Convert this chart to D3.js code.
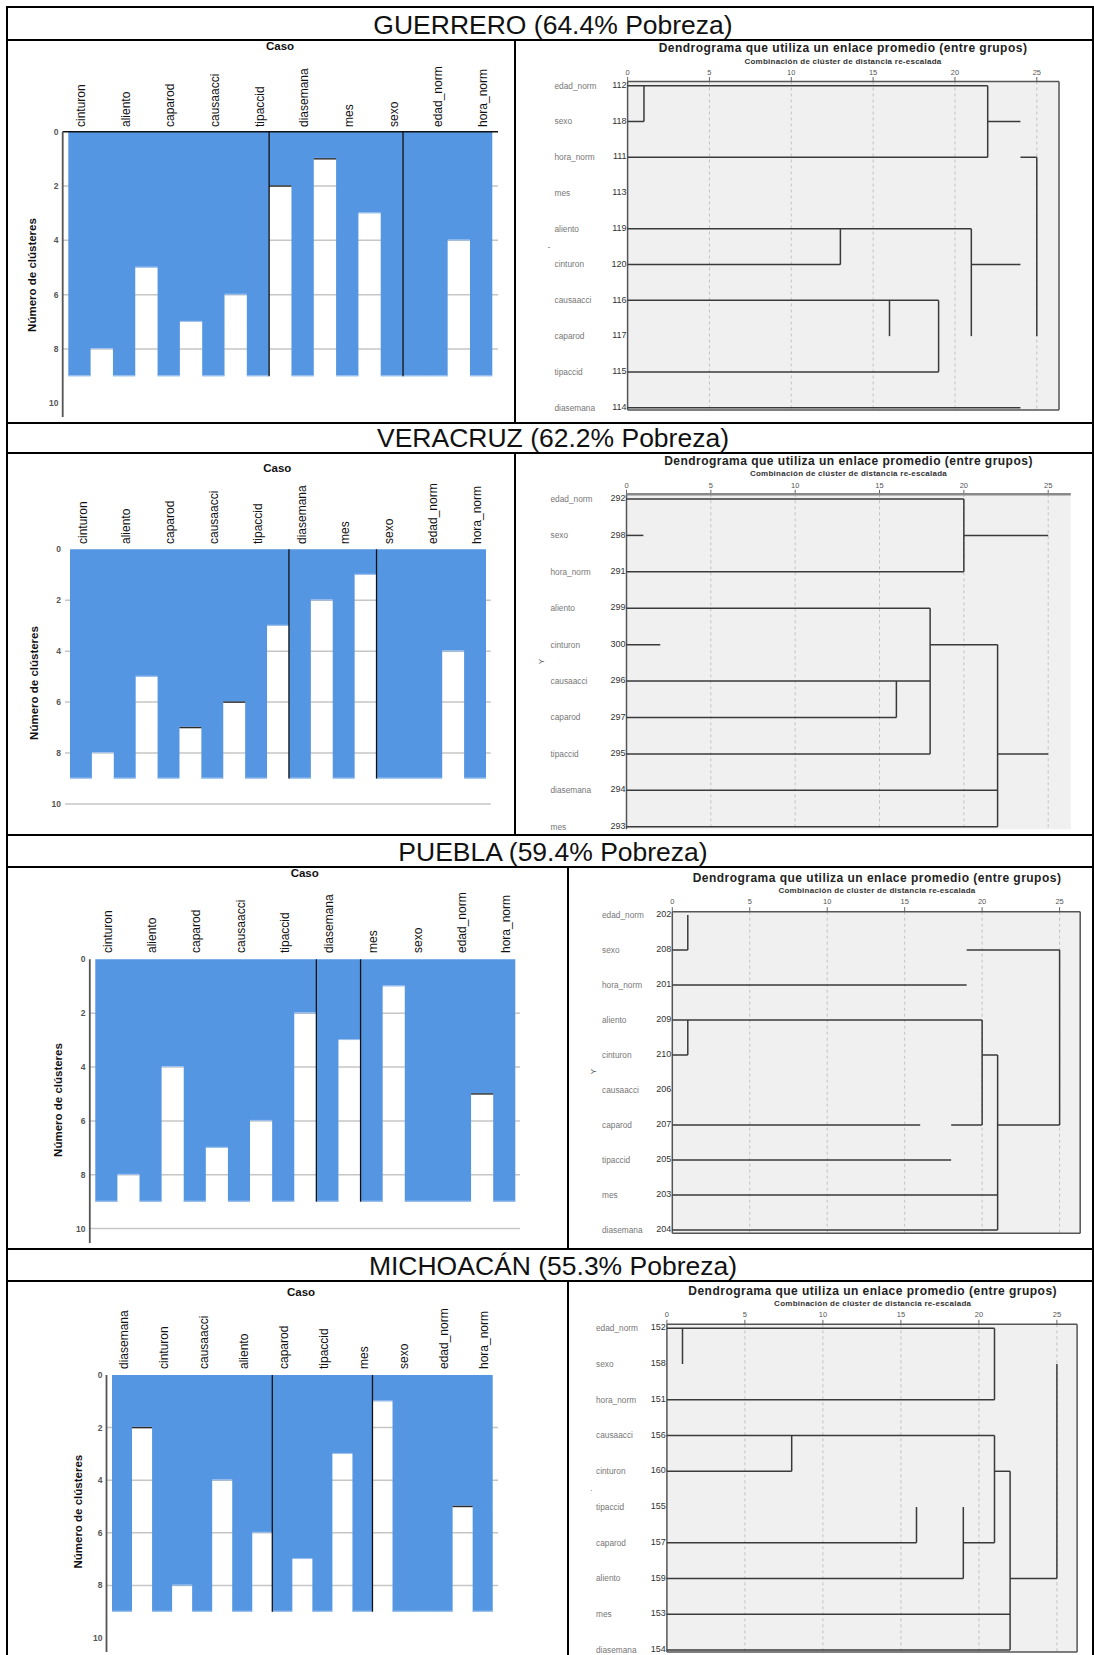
<!DOCTYPE html>
<html>
<head>
<meta charset="utf-8">
<script src="https://cdn.jsdelivr.net/npm/d3@7"></script>
<style>
  body { margin: 0; background: #fff; }
  svg { display: block; }
</style>
</head>
<body>
<svg id="chart" width="1094" height="1655"></svg>
<script>
// ---------------- data ----------------
const states = ["GUERRERO", "VERACRUZ", "PUEBLA", "MICHOACÁN"];
const povertyPct = [64.4, 62.2, 59.4, 55.3];

// Icicle plots: variable order and, for each neighbouring pair, the number of
// clusters down to which the pair stays in the same cluster.
const icicleVariables = [
  ["cinturon", "aliento", "caparod", "causaacci", "tipaccid", "diasemana", "mes", "sexo", "edad_norm", "hora_norm"],
  ["cinturon", "aliento", "caparod", "causaacci", "tipaccid", "diasemana", "mes", "sexo", "edad_norm", "hora_norm"],
  ["cinturon", "aliento", "caparod", "causaacci", "tipaccid", "diasemana", "mes", "sexo", "edad_norm", "hora_norm"],
  ["diasemana", "cinturon", "causaacci", "aliento", "caparod", "tipaccid", "mes", "sexo", "edad_norm", "hora_norm"]
];
const icicleJoin = [
  [8, 5, 7, 6, 2, 1, 3, 9, 4],
  [8, 5, 7, 6, 3, 2, 1, 9, 4],
  [8, 4, 7, 6, 2, 3, 1, 9, 5],
  [2, 8, 4, 6, 7, 3, 1, 9, 5]
];
// column edges carrying a vertical rule, and gaps whose white part has a top rule
const icicleDividers = [[9, 15], [10, 14], [10, 12], [8, 13]];
const icicleRuledGaps = [[4, 5], [2, 3], [8], [0, 8]];
const clusterTicks = [0, 2, 4, 6, 8, 10];
const maxClusters = 9;

// Dendrograms (average linkage): leaf order, case numbers and drawn segments
const dendroNames = [
  ["edad_norm", "sexo", "hora_norm", "mes", "aliento", "cinturon", "causaacci", "caparod", "tipaccid", "diasemana"],
  ["edad_norm", "sexo", "hora_norm", "aliento", "cinturon", "causaacci", "caparod", "tipaccid", "diasemana", "mes"],
  ["edad_norm", "sexo", "hora_norm", "aliento", "cinturon", "causaacci", "caparod", "tipaccid", "mes", "diasemana"],
  ["edad_norm", "sexo", "hora_norm", "causaacci", "cinturon", "tipaccid", "caparod", "aliento", "mes", "diasemana"]
];
const dendroCases = [
  [112, 118, 111, 113, 119, 120, 116, 117, 115, 114],
  [292, 298, 291, 299, 300, 296, 297, 295, 294, 293],
  [202, 208, 201, 209, 210, 206, 207, 205, 203, 204],
  [152, 158, 151, 156, 160, 155, 157, 159, 153, 154]
];
// horizontal segments: [leaf row, from distance, to distance]
const dendroH = [
  [[0,0,22],[1,0,1],[1,22,24],[2,0,22],[2,24,25],[4,0,21],[5,0,13],[5,21,24],[6,0,19],[8,0,19],[9,0,24]],
  [[0,0,20],[1,0,1],[1,20,25],[2,0,20],[3,0,18],[4,0,2],[4,18,22],[5,0,18],[6,0,16],[7,0,18],[7,22,25],[8,0,22],[9,0,22]],
  [[1,0,1],[1,19,25],[2,0,19],[3,0,20],[4,0,1],[4,20,21],[6,0,16],[6,18,20],[6,21,25],[7,0,18],[8,0,21],[9,0,21]],
  [[0,0,21],[2,0,21],[3,0,21],[4,0,8],[4,21,22],[6,0,16],[6,19,21],[7,0,19],[7,22,25],[8,0,22],[9,0,22]]
];
// vertical segments: [distance, from leaf row, to leaf row]
const dendroV = [
  [[1,0,1],[22,0,2],[13,4,5],[21,4,7],[16,6,7],[19,6,8],[25,2,7]],
  [[20,0,2],[18,3,7],[16,5,6],[22,4,9]],
  [[1,0,1],[1,3,4],[25,1,6],[20,3,6],[21,4,9]],
  [[1,0,1],[21,0,2],[25,1,7],[8,3,4],[21,3,6],[22,4,9],[16,5,6],[19,5,7]]
];
const distanceTicks = [0, 5, 10, 15, 20, 25];

// ---------------- layout ----------------
const FONT = '"Liberation Sans", Arial, Helvetica, sans-serif';
const BLUE = "#5596e3";
const W = 1094, H = 1655;

const tableLeft = 7, tableRight = 1093, titleCenterX = 553;
const tableRows = [
  { top: 7,    head: 40,   bottom: 423,  split: 515 },
  { top: 423,  head: 453,  bottom: 835,  split: 515 },
  { top: 835,  head: 867,  bottom: 1249, split: 568 },
  { top: 1249, head: 1281, bottom: 1656, split: 568 }
];

const icicleLayout = [
  { x0: 68.3, x1: 492.3, y0: 131.7, y10: 403.3, gx0: 62.7, gx1: 498,   tickX: 58.5, caso: [280, 50],      ylab: [31.7, 275],  labBottom: 127,  grid: [2,4,6,8],    axisLeft: 417,  axisTop: true },
  { x0: 70,   x1: 486,   y0: 549.3, y10: 804,   gx0: 65,   gx1: 490.7, tickX: 61,   caso: [277.3, 471.5], ylab: [34.3, 683],  labBottom: 544,  grid: [2,4,6,8,10], axisLeft: null, axisTop: false },
  { x0: 95.3, x1: 515.3, y0: 959.3, y10: 1228.6,gx0: 89.8, gx1: 520,   tickX: 85.5, caso: [304.7, 877],   ylab: [58, 1100],   labBottom: 953,  grid: [2,4,6,8,10], axisLeft: 1243, axisTop: false },
  { x0: 112,  x1: 492.7, y0: 1375,  y10: 1638,  gx0: 106.5,gx1: 498,   tickX: 102.5,caso: [301, 1295.5],  ylab: [78, 1511.7], labBottom: 1369, grid: [2,4,6,8],    axisLeft: 1652, axisTop: false }
];

const dendroLayout = [
  { x0: 627.6, x25: 1036.8, right: 1059,   top: 81.5,   bottom: 410,    r0: 85.7,   r9: 407.7, titleX: 843,   titleY: 52.3,   subY: 64.3,   tickY: 74.5,   namesX: 554.5, sides: "trbl", topW: 1.5, topC: "#555", mark: ["-", 549, 246, false] },
  { x0: 626.5, x25: 1048.2, right: 1070.8, top: 494.3,  bottom: 829.3,  r0: 499,    r9: 826.7, titleX: 848.5, titleY: 464.5,  subY: 476.3,  tickY: 487.5,  namesX: 550.5, sides: "tl",   topW: 2.5, topC: "#8a8a8a", mark: ["Y", 541.6, 661.7, true] },
  { x0: 672.3, x25: 1059.6, right: 1080.2, top: 911.7,  bottom: 1233.3, r0: 915,    r9: 1230,  titleX: 877,   titleY: 882,    subY: 893,    tickY: 904,    namesX: 602,   sides: "trbl", topW: 1.5, topC: "#555", mark: ["Y", 592.7, 1071.7, true] },
  { x0: 666.9, x25: 1056.9, right: 1077.1, top: 1324.3, bottom: 1652,   r0: 1328.3, r9: 1650,  titleX: 872.7, titleY: 1294.5, subY: 1306,   tickY: 1316.5, namesX: 596,   sides: "trbl", topW: 1.5, topC: "#555", mark: [".", 591.3, 1488, false] }
];

// ---------------- drawing ----------------
const svg = d3.select("#chart").attr("font-family", FONT);
svg.append("rect").attr("width", W).attr("height", H).attr("fill", "#fff");

function drawIcicle(k) {
  const L = icicleLayout[k];
  const vars = icicleVariables[k], joins = icicleJoin[k];
  const nCols = vars.length * 2 - 1;
  const x = d3.scaleLinear().domain([0, nCols]).range([L.x0, L.x1]);
  const y = d3.scaleLinear().domain([0, 10]).range([L.y0, L.y10]);
  const g = svg.append("g").attr("class", "icicle");

  g.selectAll("line.grid").data(L.grid).join("line")
    .attr("class", "grid")
    .attr("x1", L.gx0).attr("x2", L.gx1)
    .attr("y1", d => y(d)).attr("y2", d => y(d))
    .attr("stroke", "#c6c6c6").attr("stroke-width", 1.5);

  const cells = vars.map((v, i) => ({ col: 2 * i, level: maxClusters }))
    .concat(joins.map((j, i) => ({ col: 2 * i + 1, level: j })));

  // all cells in one path so neighbouring columns merge without seams
  const p = d3.path();
  cells.forEach(d => p.rect(x(d.col), y(0), x(d.col + 1) - x(d.col), y(d.level) - y(0)));
  g.append("path").attr("d", p.toString()).attr("fill", BLUE);

  // lighter lower edge of each cell
  g.selectAll("line.edge").data(cells).join("line")
    .attr("class", "edge")
    .attr("x1", d => x(d.col)).attr("x2", d => x(d.col + 1))
    .attr("y1", d => y(d.level) - 0.5).attr("y2", d => y(d.level) - 0.5)
    .attr("stroke", "#a4c5ef").attr("stroke-width", 1);

  g.selectAll("line.ruled").data(icicleRuledGaps[k]).join("line")
    .attr("class", "ruled")
    .attr("x1", d => x(2 * d + 1)).attr("x2", d => x(2 * d + 2))
    .attr("y1", d => y(joins[d])).attr("y2", d => y(joins[d]))
    .attr("stroke", "#2b2b2b").attr("stroke-width", 1.4);

  g.selectAll("line.divider").data(icicleDividers[k]).join("line")
    .attr("class", "divider")
    .attr("x1", d => x(d)).attr("x2", d => x(d))
    .attr("y1", y(0)).attr("y2", y(maxClusters))
    .attr("stroke", "#111").attr("stroke-width", 1.3);

  if (L.axisTop) {
    g.append("line").attr("x1", L.gx0).attr("x2", L.gx1)
      .attr("y1", y(0)).attr("y2", y(0))
      .attr("stroke", "#111").attr("stroke-width", 1.5);
  }
  if (L.axisLeft) {
    g.append("line").attr("x1", L.gx0).attr("x2", L.gx0)
      .attr("y1", y(0)).attr("y2", L.axisLeft)
      .attr("stroke", "#555").attr("stroke-width", 1.8);
  }

  g.selectAll("text.tick").data(clusterTicks).join("text")
    .attr("class", "tick")
    .attr("x", L.tickX).attr("y", d => y(d)).attr("dy", "0.35em")
    .attr("text-anchor", "end")
    .attr("font-size", 8.5).attr("font-weight", "bold").attr("fill", "#555")
    .text(d => d);

  g.selectAll("text.var").data(vars).join("text")
    .attr("class", "var")
    .attr("transform", (d, i) => `translate(${x(2 * i + 0.5) + 1.5},${L.labBottom}) rotate(-90)`)
    .attr("dy", "0.35em")
    .attr("font-size", 12).attr("fill", "#111")
    .text(d => d);

  g.append("text")
    .attr("x", L.caso[0]).attr("y", L.caso[1])
    .attr("text-anchor", "middle")
    .attr("font-size", 11.5).attr("font-weight", "bold").attr("fill", "#111")
    .text("Caso");

  g.append("text")
    .attr("transform", `translate(${L.ylab[0]},${L.ylab[1]}) rotate(-90)`)
    .attr("dy", "0.35em").attr("text-anchor", "middle")
    .attr("font-size", 11.5).attr("font-weight", "bold").attr("fill", "#111")
    .text("Número de clústeres");
}

function drawDendro(k) {
  const D = dendroLayout[k];
  const x = d3.scaleLinear().domain([0, 25]).range([D.x0, D.x25]);
  const r = d3.scaleLinear().domain([0, 9]).range([D.r0, D.r9]);
  const g = svg.append("g").attr("class", "dendrogram");

  g.append("rect")
    .attr("x", D.x0).attr("y", D.top)
    .attr("width", D.right - D.x0).attr("height", D.bottom - D.top)
    .attr("fill", "#f0f0f0");

  g.selectAll("line.grid").data(distanceTicks.filter(t => t > 0)).join("line")
    .attr("class", "grid")
    .attr("x1", d => x(d)).attr("x2", d => x(d))
    .attr("y1", D.top).attr("y2", D.bottom)
    .attr("stroke", "#c2c2c2").attr("stroke-width", 1)
    .attr("stroke-dasharray", "3,3");

  // short tick marks above the frame
  g.selectAll("line.tickmark").data(distanceTicks).join("line")
    .attr("class", "tickmark")
    .attr("x1", d => x(d)).attr("x2", d => x(d))
    .attr("y1", D.top - 4.5).attr("y2", D.top)
    .attr("stroke", "#666").attr("stroke-width", 1);

  const border = { stroke: "#555", w: 1.5 };
  if (D.sides.includes("r")) g.append("line").attr("x1", D.right).attr("x2", D.right).attr("y1", D.top).attr("y2", D.bottom).attr("stroke", border.stroke).attr("stroke-width", border.w);
  if (D.sides.includes("b")) g.append("line").attr("x1", D.x0).attr("x2", D.right).attr("y1", D.bottom).attr("y2", D.bottom).attr("stroke", border.stroke).attr("stroke-width", border.w);
  if (D.sides.includes("l")) g.append("line").attr("x1", D.x0).attr("x2", D.x0).attr("y1", D.top).attr("y2", D.bottom).attr("stroke", border.stroke).attr("stroke-width", border.w);
  if (D.sides.includes("t")) g.append("line").attr("x1", D.x0).attr("x2", D.right).attr("y1", D.top).attr("y2", D.top).attr("stroke", D.topC).attr("stroke-width", D.topW);

  g.selectAll("line.h").data(dendroH[k]).join("line")
    .attr("class", "h")
    .attr("x1", d => x(d[1])).attr("x2", d => x(d[2]))
    .attr("y1", d => r(d[0])).attr("y2", d => r(d[0]))
    .attr("stroke", "#3a3a3a").attr("stroke-width", 1.5);

  g.selectAll("line.v").data(dendroV[k]).join("line")
    .attr("class", "v")
    .attr("x1", d => x(d[0])).attr("x2", d => x(d[0]))
    .attr("y1", d => r(d[1])).attr("y2", d => r(d[2]))
    .attr("stroke", "#3a3a3a").attr("stroke-width", 1.5);

  g.selectAll("text.tick").data(distanceTicks).join("text")
    .attr("class", "tick")
    .attr("x", d => x(d)).attr("y", D.tickY)
    .attr("text-anchor", "middle")
    .attr("font-size", 7.5).attr("fill", "#555")
    .text(d => d);

  g.selectAll("text.name").data(dendroNames[k]).join("text")
    .attr("class", "name")
    .attr("x", D.namesX).attr("y", (d, i) => r(i)).attr("dy", "0.35em")
    .attr("font-size", 8.3).attr("fill", "#777")
    .text(d => d);

  g.selectAll("text.case").data(dendroCases[k]).join("text")
    .attr("class", "case")
    .attr("x", D.x0 - 1).attr("y", (d, i) => r(i) - 1).attr("dy", "0.35em")
    .attr("text-anchor", "end")
    .attr("font-size", 9).attr("fill", "#333")
    .text(d => d);

  g.append("text")
    .attr("x", D.titleX).attr("y", D.titleY)
    .attr("text-anchor", "middle")
    .attr("font-size", 12).attr("font-weight", "bold").attr("fill", "#222")
    .attr("letter-spacing", 0.48)
    .text("Dendrograma que utiliza un enlace promedio (entre grupos)");

  g.append("text")
    .attr("x", D.titleX).attr("y", D.subY)
    .attr("text-anchor", "middle")
    .attr("font-size", 8).attr("font-weight", "bold").attr("fill", "#333")
    .attr("letter-spacing", 0.25)
    .text("Combinación de clúster de distancia re-escalada");

  const [m, mx, my, rot] = D.mark;
  g.append("text")
    .attr("transform", `translate(${mx},${my})` + (rot ? " rotate(-90)" : ""))
    .attr("dy", "0.35em").attr("text-anchor", "middle")
    .attr("font-size", 8).attr("fill", "#555")
    .text(m);
}

states.forEach((st, k) => {
  drawIcicle(k);
  drawDendro(k);
  const row = tableRows[k];
  svg.append("text")
    .attr("x", titleCenterX).attr("y", row.head - 6.5)
    .attr("text-anchor", "middle")
    .attr("font-size", 26.5).attr("fill", "#111")
    .text(`${st} (${d3.format(".1f")(povertyPct[k])}% Pobreza)`);
});

// table rules
const rules = svg.append("g").attr("stroke", "#000").attr("stroke-width", 2);
tableRows.forEach(row => {
  rules.append("line").attr("x1", tableLeft).attr("x2", tableRight).attr("y1", row.top).attr("y2", row.top);
  rules.append("line").attr("x1", tableLeft).attr("x2", tableRight).attr("y1", row.head).attr("y2", row.head);
  rules.append("line").attr("x1", row.split).attr("x2", row.split).attr("y1", row.head).attr("y2", row.bottom);
});
rules.append("line").attr("x1", tableLeft).attr("x2", tableLeft).attr("y1", tableRows[0].top - 1).attr("y2", H);
rules.append("line").attr("x1", tableRight).attr("x2", tableRight).attr("y1", tableRows[0].top - 1).attr("y2", H);
</script>
</body>
</html>
